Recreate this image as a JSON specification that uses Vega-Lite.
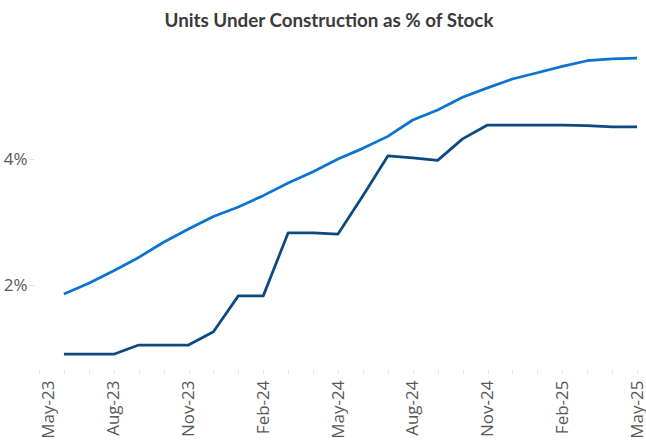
{
  "$schema": "https://vega.github.io/schema/vega-lite/v6.json",
  "autosize": "none",
  "padding": {"left": 39, "top": 33, "right": 9, "bottom": 74},
  "width": 598,
  "height": 336,
  "background": "white",
  "title": {
    "text": "Units Under Construction as % of Stock",
    "font": "Lato",
    "fontSize": 18.8,
    "fontWeight": "bold",
    "color": "#3a3a3a",
    "anchor": "middle",
    "frame": "group",
    "dx": -9,
    "baseline": "alphabetic",
    "offset": -13
  },
  "config": {"view": {"stroke": null}},
  "data": {
    "values": [
      {"month": "Jun-23", "series": "Total", "value": 1.86},
      {"month": "Jul-23", "series": "Total", "value": 2.03},
      {"month": "Aug-23", "series": "Total", "value": 2.23},
      {"month": "Sep-23", "series": "Total", "value": 2.44},
      {"month": "Oct-23", "series": "Total", "value": 2.68},
      {"month": "Nov-23", "series": "Total", "value": 2.89},
      {"month": "Dec-23", "series": "Total", "value": 3.09},
      {"month": "Jan-24", "series": "Total", "value": 3.24},
      {"month": "Feb-24", "series": "Total", "value": 3.42},
      {"month": "Mar-24", "series": "Total", "value": 3.62},
      {"month": "Apr-24", "series": "Total", "value": 3.8},
      {"month": "May-24", "series": "Total", "value": 4.0},
      {"month": "Jun-24", "series": "Total", "value": 4.17},
      {"month": "Jul-24", "series": "Total", "value": 4.36},
      {"month": "Aug-24", "series": "Total", "value": 4.62},
      {"month": "Sep-24", "series": "Total", "value": 4.78},
      {"month": "Oct-24", "series": "Total", "value": 4.98},
      {"month": "Nov-24", "series": "Total", "value": 5.13},
      {"month": "Dec-24", "series": "Total", "value": 5.27},
      {"month": "Jan-25", "series": "Total", "value": 5.37},
      {"month": "Feb-25", "series": "Total", "value": 5.47},
      {"month": "Mar-25", "series": "Total", "value": 5.56},
      {"month": "Apr-25", "series": "Total", "value": 5.59},
      {"month": "May-25", "series": "Total", "value": 5.6},
      {"month": "Jun-23", "series": "Other", "value": 0.905},
      {"month": "Jul-23", "series": "Other", "value": 0.905},
      {"month": "Aug-23", "series": "Other", "value": 0.905},
      {"month": "Sep-23", "series": "Other", "value": 1.05},
      {"month": "Oct-23", "series": "Other", "value": 1.05},
      {"month": "Nov-23", "series": "Other", "value": 1.05},
      {"month": "Dec-23", "series": "Other", "value": 1.26},
      {"month": "Jan-24", "series": "Other", "value": 1.83},
      {"month": "Feb-24", "series": "Other", "value": 1.83},
      {"month": "Mar-24", "series": "Other", "value": 2.83},
      {"month": "Apr-24", "series": "Other", "value": 2.83},
      {"month": "May-24", "series": "Other", "value": 2.81},
      {"month": "Jun-24", "series": "Other", "value": 3.42},
      {"month": "Jul-24", "series": "Other", "value": 4.05},
      {"month": "Aug-24", "series": "Other", "value": 4.02},
      {"month": "Sep-24", "series": "Other", "value": 3.98},
      {"month": "Oct-24", "series": "Other", "value": 4.32},
      {"month": "Nov-24", "series": "Other", "value": 4.54},
      {"month": "Dec-24", "series": "Other", "value": 4.54},
      {"month": "Jan-25", "series": "Other", "value": 4.54},
      {"month": "Feb-25", "series": "Other", "value": 4.54},
      {"month": "Mar-25", "series": "Other", "value": 4.53},
      {"month": "Apr-25", "series": "Other", "value": 4.51},
      {"month": "May-25", "series": "Other", "value": 4.51}
    ]
  },
  "mark": {"type": "line", "strokeWidth": 2.75, "strokeJoin": "round", "strokeCap": "butt"},
  "encoding": {
    "x": {
      "field": "month",
      "type": "ordinal",
      "sort": null,
      "scale": {
        "type": "point",
        "padding": 0,
        "domain": ["May-23", "Jun-23", "Jul-23", "Aug-23", "Sep-23", "Oct-23", "Nov-23", "Dec-23", "Jan-24", "Feb-24", "Mar-24", "Apr-24", "May-24", "Jun-24", "Jul-24", "Aug-24", "Sep-24", "Oct-24", "Nov-24", "Dec-24", "Jan-25", "Feb-25", "Mar-25", "Apr-25", "May-25"]
      },
      "axis": {
        "title": null,
        "domain": false,
        "grid": false,
        "ticks": true,
        "tickSize": 4,
        "tickColor": "#e3e3e3",
        "labelAngle": -90,
        "labelAlign": "right",
        "labelBaseline": "middle",
        "labelPadding": 7,
        "labelOffset": {"condition": {"test": "datum.value === 'May-23'", "value": 9}, "value": 0},
        "labelFont": "Open Sans",
        "labelFontSize": 17,
        "labelColor": "#595959",
        "labelOverlap": false,
        "labelExpr": "indexof(['May-23','Aug-23','Nov-23','Feb-24','May-24','Aug-24','Nov-24','Feb-25','May-25'], datum.value) >= 0 ? datum.value : ''"
      }
    },
    "y": {
      "field": "value",
      "type": "quantitative",
      "scale": {"domain": [0.67, 6.0], "nice": false, "zero": false},
      "axis": {
        "title": null,
        "domain": false,
        "grid": false,
        "values": [2, 4],
        "tickSize": 5,
        "tickColor": "#e3e3e3",
        "offset": 5,
        "labelPadding": 2,
        "labelFont": "Open Sans",
        "labelFontSize": 17,
        "labelColor": "#595959",
        "labelExpr": "datum.value + '%'"
      }
    },
    "color": {
      "field": "series",
      "type": "nominal",
      "scale": {"domain": ["Total", "Other"], "range": ["#0A74CF", "#0B4A80"]},
      "legend": null
    }
  }
}
